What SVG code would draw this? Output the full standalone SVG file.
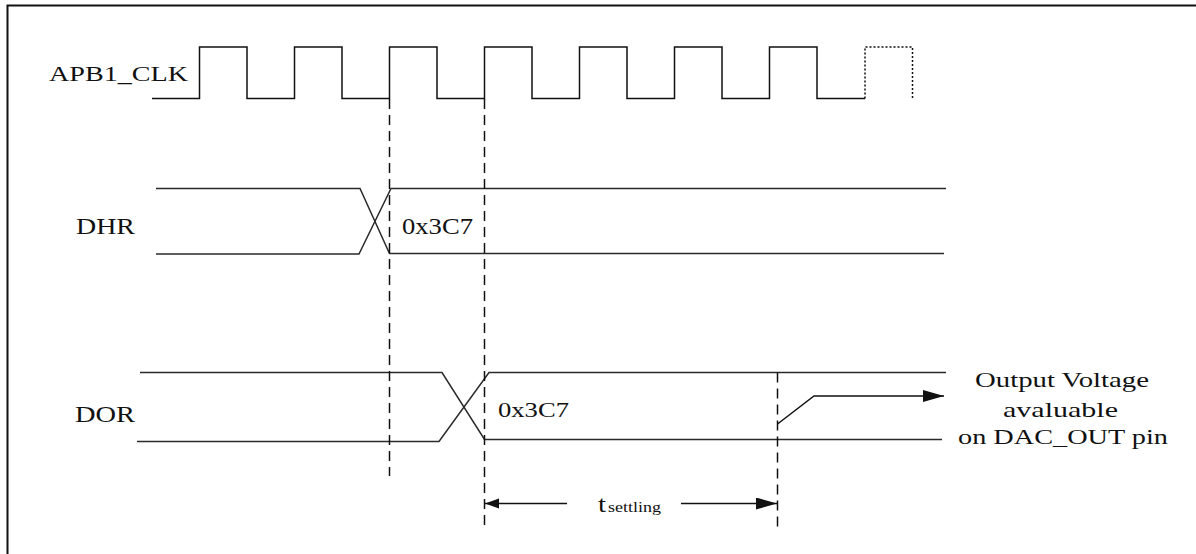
<svg xmlns="http://www.w3.org/2000/svg" width="1196" height="554" viewBox="0 0 1196 554">
<style>
.sig{fill:none;stroke:#2a2a2a;stroke-width:1.5}
.clk{fill:none;stroke:#111;stroke-width:1.5}
.dot{fill:none;stroke:#111;stroke-width:1.5;stroke-dasharray:2 2}
.dash{fill:none;stroke:#111;stroke-width:1.5;stroke-dasharray:10 6}
.arr{fill:none;stroke:#111;stroke-width:1.5}
.lbl{font-family:"Liberation Serif","Times New Roman",serif;fill:#111}
</style>
<defs>
<marker id="headBig" markerUnits="userSpaceOnUse" markerWidth="22" markerHeight="13" refX="21" refY="6" orient="auto-start-reverse">
<path d="M0,0 L21,6 L0,12 z" fill="#111"/>
</marker>
<marker id="headSmall" markerUnits="userSpaceOnUse" markerWidth="15" markerHeight="11" refX="14" refY="5" orient="auto-start-reverse">
<path d="M0,0 L14,5 L0,10 z" fill="#111"/>
</marker>
</defs>
<rect x="7.5" y="5.5" width="1200" height="560" fill="#fff" stroke="#111" stroke-width="2"/>

<g id="apb1_clk">
<text class="lbl" x="49" y="81" font-size="20" textLength="139" lengthAdjust="spacingAndGlyphs">APB1_CLK</text>
<path class="clk" d="M152,98.5 H199.5 V47 H247 V98.5 H294.5 V47 H342 V98.5 H389.5 V47 H437 V98.5 H484.5 V47 H532 V98.5 H579.5 V47 H627 V98.5 H674.5 V47 H722 V98.5 H769.5 V47 H817 V98.5 H865"/>
<path class="dot" d="M865,98.5 V47 H912.5 V98.5"/>
</g>

<g id="dhr">
<text class="lbl" x="76" y="234" font-size="23.5" textLength="59" lengthAdjust="spacingAndGlyphs">DHR</text>
<path class="sig" d="M156,188.5 H360 L389.5,253.5 H944"/>
<path class="sig" d="M156,254 H359 L391,188.5 H946"/>
<text class="lbl" x="402" y="234" font-size="22.5" textLength="71" lengthAdjust="spacingAndGlyphs">0x3C7</text>
</g>

<g id="dor">
<text class="lbl" x="75" y="422" font-size="24" textLength="60" lengthAdjust="spacingAndGlyphs">DOR</text>
<path class="sig" d="M140,372.5 H442 L484.5,439.5 H942"/>
<path class="sig" d="M137,441.5 H439 L489,372.5 H946"/>
<text class="lbl" x="498" y="417" font-size="22" textLength="71" lengthAdjust="spacingAndGlyphs">0x3C7</text>
</g>

<g id="output_note">
<text class="lbl" x="975" y="387" font-size="22" textLength="174" lengthAdjust="spacingAndGlyphs">Output Voltage</text>
<text class="lbl" x="1003" y="416.5" font-size="22" textLength="115" lengthAdjust="spacingAndGlyphs">avaluable</text>
<text class="lbl" x="958" y="444" font-size="22" textLength="210" lengthAdjust="spacingAndGlyphs">on DAC_OUT pin</text>
</g>

<g id="t_settling">
<text class="lbl" y="512"><tspan x="598" font-size="24" textLength="8" lengthAdjust="spacingAndGlyphs">t</tspan><tspan x="608" font-size="15" textLength="53" lengthAdjust="spacingAndGlyphs">settling</tspan></text>
</g>

<g id="connectors">
<line class="dash" x1="389.5" y1="99" x2="389.5" y2="476"/>
<line class="dash" x1="484.5" y1="99" x2="484.5" y2="527"/>
<line class="dash" x1="777.5" y1="372.5" x2="777.5" y2="530"/>
<path class="arr" d="M777.5,424 L814,396 H944" marker-end="url(#headBig)"/>
<line class="arr" x1="567" y1="503.5" x2="485" y2="503.5" marker-end="url(#headSmall)"/>
<line class="arr" x1="681" y1="503.5" x2="777" y2="503.5" marker-end="url(#headBig)"/>
</g>
</svg>
